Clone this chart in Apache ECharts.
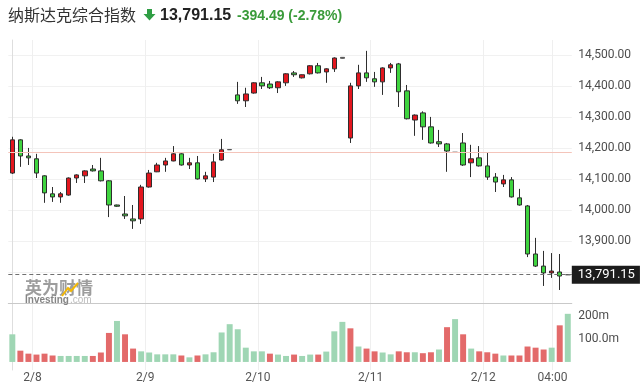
<!DOCTYPE html>
<html><head><meta charset="utf-8">
<script src="https://cdn.jsdelivr.net/npm/echarts@6/dist/echarts.min.js"></script>
<style>html,body{margin:0;padding:0;background:#fff}#c{width:640px;height:391px}</style>
</head><body><div id="c"></div>
<script>
// ---- data ----
const categories = [
 '2/7 22:30','2/7 23:00','2/7 23:30','2/8 00:00','2/8 00:30','2/8 01:00','2/8 01:30','2/8 02:00','2/8 02:30','2/8 03:00','2/8 03:30','2/8 04:00','2/8 04:30','2/8 05:00',
 '2/8 22:30','2/8 23:00','2/8 23:30','2/9 00:00','2/9 00:30','2/9 01:00','2/9 01:30','2/9 02:00','2/9 02:30','2/9 03:00','2/9 03:30','2/9 04:00','2/9 04:30','2/9 05:00',
 '2/9 22:30','2/9 23:00','2/9 23:30','2/10 00:00','2/10 00:30','2/10 01:00','2/10 01:30','2/10 02:00','2/10 02:30','2/10 03:00','2/10 03:30','2/10 04:00','2/10 04:30','2/10 05:00',
 '2/10 22:30','2/10 23:00','2/10 23:30','2/11 00:00','2/11 00:30','2/11 01:00','2/11 01:30','2/11 02:00','2/11 02:30','2/11 03:00','2/11 03:30','2/11 04:00','2/11 04:30','2/11 05:00',
 '2/11 22:30','2/11 23:00','2/11 23:30','2/12 00:00','2/12 00:30','2/12 01:00','2/12 01:30','2/12 02:00','2/12 02:30','2/12 03:00','2/12 03:30','2/12 04:00','2/12 04:30','2/12 05:00'
];
const openValues = [
 14119,14226,14174,14165,14110,14052,14042,14048,14103,14110,14132,14126,14094,14016,
 13987,13971,13971,14074,14123,14145,14158,14181,14145,14152,14100,14106,14161,14194,
 14371,14352,14377,14410,14406,14394,14410,14442,14426,14439,14465,14445,14455,14489,
 14232,14400,14442,14423,14413,14458,14471,14384,14290,14313,14268,14220,14213,14186,
 14216,14152,14168,14142,14106,14084,14097,14039,14013,13858,13819,13797,13800,13791.15
];
const closeValues = [
 14226,14174,14168,14119,14055,14042,14052,14103,14113,14126,14126,14094,14016,14012,
 13981,13965,14074,14119,14145,14158,14181,14145,14152,14100,14110,14155,14194,14195,
 14352,14374,14410,14400,14394,14413,14439,14436,14436,14465,14442,14455,14490,14492,
 14400,14442,14426,14413,14458,14468,14381,14294,14306,14268,14216,14213,14190,14185.64,
 14145,14165,14142,14106,14090,14097,14042,14016,13858,13819,13797,13803,13787,13791.15
];
const lowValues = [
 14116,14139,14145,14103,14023,14026,14023,14046,14087,14087,14124,14092,13977,14010,
 13971,13939,13955,14072,14122,14123,14157,14143,14132,14098,14090,14090,14159,14194,
 14342,14332,14375,14390,14390,14377,14400,14429,14424,14437,14440,14410,14445,14488,
 14216,14390,14413,14397,14371,14442,14332,14292,14239,14226,14214,14203,14123,14185,
 14142,14106,14140,14097,14058,14074,14040,14014,13848,13816,13755,13781,13742,13791.15
];
const highValues = [
 14236,14228,14200,14181,14112,14074,14058,14105,14115,14128,14145,14168,14096,14017,
 14045,14016,14081,14129,14152,14168,14206,14183,14168,14174,14123,14181,14229,14196,
 14413,14394,14412,14429,14416,14415,14441,14448,14437,14467,14474,14457,14492,14493,
 14410,14468,14513,14445,14460,14474,14474,14403,14308,14318,14300,14258,14216,14186,
 14248,14210,14206,14184,14119,14113,14106,14068,14016,13910,13868,13861,13858,13791.15
];
// volume in millions
const volumeValues = [
 120,49,36,32,36,28,26,26,26,26,26,41,126,178,
 120,58,46,41,33,33,33,28,20,28,33,42,128,164,
 142,62,46,46,36,32,26,32,26,32,32,45,133,174,
 146,67,58,46,41,33,46,42,42,38,42,54,151,186,
 120,58,46,42,36,28,28,28,67,62,54,62,159,209
];
// 'u' = green bar, 'd' = red bar
const volumeDirections = [
 'u','d','d','d','d','d','u','u','u','u','d','d','d','u',
 'd','d','u','u','u','u','u','d','u','d','u','u','u','u',
 'u','u','u','u','d','u','u','d','u','u','d','u','u','u',
 'd','u','d','d','u','u','d','d','u','d','d','u','d','u',
 'd','u','d','d','d','u','d','d','d','d','d','u','d','u'
];
const closingTickBars = [27, 41, 55, 69];
const prevClose = 14185.64;
const lastClose = 13791.15;
const lastCloseLabel = '13,791.15';
const priceGridValues = [13800,13900,14000,14100,14200,14300,14400,14500];
const priceTickValues = [13900,14000,14100,14200,14300,14400,14500];
const volumeTickValues = [100, 200];
const volumeTickLabels = ['100.0m', '200m'];
const xTickPositions = [2.5, 16.5, 30.5, 44.5, 58.5, 67.1];
const xTickLabels = ['2/8', '2/9', '2/10', '2/11', '2/12', '04:00'];

// ---- chart ----
const RED = '#e3161e', GREEN = '#3fd43f', BORDER = '#2e2e2e';
const VOL_GREEN = '#9fd6b4', VOL_RED = '#e36a6a';
const N = categories.length;
const chart = echarts.init(document.getElementById('c'), null, {renderer: 'canvas'});

const candleData = categories.map((c, i) => {
  const item = {value: [openValues[i], closeValues[i], lowValues[i], highValues[i]]};
  if (closingTickBars.indexOf(i) >= 0) {
    item.itemStyle = {color: '#8a8a8a', color0: '#8a8a8a', borderColor: '#555', borderColor0: '#555', borderColorDoji: '#555'};
  }
  return item;
});
const volumeData = volumeValues.map((v, i) => ({
  value: v, itemStyle: {color: volumeDirections[i] === 'u' ? VOL_GREEN : VOL_RED}
}));
const fmtPrice = v => Number(v).toLocaleString('en-US', {minimumFractionDigits: 2, maximumFractionDigits: 2});
const nearestLabel = (vals, labels, v) => {
  let best = 0;
  for (let i = 1; i < vals.length; i++) if (Math.abs(vals[i] - v) < Math.abs(vals[best] - v)) best = i;
  return labels[best];
};

const gridLeft = 8.3, gridRight = 68.2;
const option = {
  animation: false,
  backgroundColor: '#ffffff',
  grid: [
    {left: gridLeft, right: gridRight, top: 40, height: 263},
    {left: gridLeft, right: gridRight, top: 303, height: 67}
  ],
  xAxis: [
    {type: 'category', gridIndex: 0, data: categories, boundaryGap: true,
     axisLine: {show: true, lineStyle: {color: '#c9c9c9'}}, axisTick: {show: false},
     axisLabel: {show: false}, splitLine: {show: false}},
    {type: 'category', gridIndex: 1, data: categories, boundaryGap: true, show: false},
    {type: 'value', gridIndex: 0, position: 'top', min: -0.5, max: N - 0.5,
     axisLine: {show: false}, axisTick: {show: false, customValues: xTickPositions},
     axisLabel: {show: false}, splitLine: {show: true, lineStyle: {color: '#efefef'}}},
    {type: 'value', gridIndex: 1, position: 'bottom', min: -0.5, max: N - 0.5,
     axisLine: {show: false}, axisTick: {show: false, customValues: xTickPositions},
     axisLabel: {customValues: xTickPositions, formatter: v => nearestLabel(xTickPositions, xTickLabels, v),
       color: '#555', fontSize: 12, fontFamily: 'Roboto', margin: 2},
     splitLine: {show: true, lineStyle: {color: '#efefef'}}}
  ],
  yAxis: [
    {type: 'value', gridIndex: 0, position: 'right', min: 13700, max: 14548, scale: true,
     axisLine: {show: true, lineStyle: {color: '#dedede'}}, axisTick: {show: false, customValues: priceGridValues},
     axisLabel: {customValues: priceTickValues, formatter: fmtPrice, color: '#4d4d4d', fontSize: 12, fontFamily: 'Roboto', margin: 6.5},
     splitLine: {show: true, lineStyle: {color: '#f1f1f1'}}},
    {type: 'value', gridIndex: 1, position: 'right', min: -35, max: 256,
     axisLine: {show: true, lineStyle: {color: '#dedede'}}, axisTick: {show: false, customValues: volumeTickValues},
     axisLabel: {customValues: volumeTickValues, formatter: v => nearestLabel(volumeTickValues, volumeTickLabels, v),
       color: '#4d4d4d', fontSize: 12, fontFamily: 'Roboto', margin: 6.5},
     splitLine: {show: false}}
  ],
  series: [
    {type: 'candlestick', xAxisIndex: 0, yAxisIndex: 0, data: candleData, barWidth: 5,
     itemStyle: {color: RED, color0: GREEN, borderColor: BORDER, borderColor0: BORDER, borderColorDoji: BORDER, borderWidth: 1},
     markLine: {silent: true, symbol: ['none', 'none'], animation: false,
       data: [
         {yAxis: prevClose, lineStyle: {color: '#f4c4ba', type: 'solid', width: 1}, label: {show: false}},
         {yAxis: lastClose, lineStyle: {color: '#707070', type: [4, 3], width: 1},
          label: {show: true, position: 'end', distance: 0, formatter: lastCloseLabel,
            backgroundColor: '#1c1c1c', color: '#ffffff', padding: [3, 5, 2, 6], fontSize: 13, fontFamily: 'Roboto'}}
       ]}
    },
    {type: 'bar', xAxisIndex: 1, yAxisIndex: 1, data: volumeData, barWidth: '74%'}
  ],
  graphic: [
    {type: 'text', x: 8, y: 14.5, style: {text: '纳斯达克综合指数', font: '16px "Noto Sans CJK SC"', fill: '#333', verticalAlign: 'middle'}},
    {type: 'polygon', shape: {points: [[147, 9], [152, 9], [152, 14], [155.5, 14], [149.5, 20.5], [143.5, 14], [147, 14]]}, style: {fill: '#2f9e44'}},
    {type: 'text', x: 160, y: 15.5, style: {text: '13,791.15', font: 'bold 16px "Liberation Sans"', fill: '#222', verticalAlign: 'middle'}},
    {type: 'text', x: 237, y: 16, style: {text: '-394.49 (-2.78%)', font: 'bold 14px "Liberation Sans"', fill: '#3a9b3a', verticalAlign: 'middle'}},
    {type: 'text', x: 25, y: 288, z: 10, style: {text: '英为财情', font: 'bold 17px "Noto Sans CJK SC"', fill: '#9d9d9d', verticalAlign: 'middle'}},
    {type: 'polyline', z: 11, shape: {points: [[62, 296], [68, 288], [71, 291], [78, 283]]}, style: {stroke: '#f2b705', lineWidth: 2, fill: null}},
    {type: 'text', x: 25, y: 300, z: 10, style: {text: 'Investing', font: 'bold 10px "Liberation Sans"', fill: '#858585', verticalAlign: 'middle'}},
    {type: 'text', x: 70, y: 300.5, z: 10, style: {text: '.com', font: '10px "Liberation Sans"', fill: '#bcbcbc', verticalAlign: 'middle'}}
  ]
};
chart.setOption(option);
</script>
</body></html>
